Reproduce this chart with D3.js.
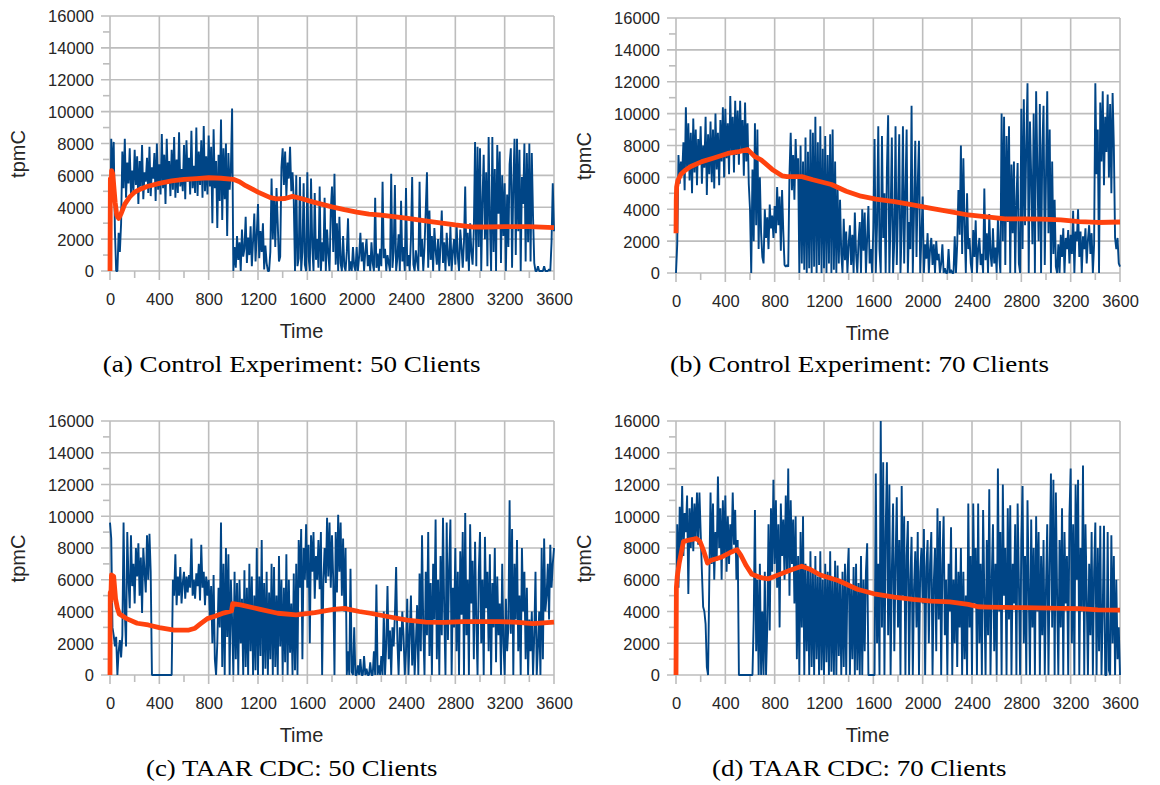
<!DOCTYPE html>
<html>
<head>
<meta charset="utf-8">
<script src="https://cdn.jsdelivr.net/npm/d3@7"></script>
<style>
  html, body { margin: 0; padding: 0; background: #fff; }
  svg { display: block; }
</style>
</head>
<body>
<svg id="fig" width="1160" height="785"></svg>
<script>
// Axis ticks
const timeTicks = [0, 400, 800, 1200, 1600, 2000, 2400, 2800, 3200, 3600];
const timeMinor = [200, 600, 1000, 1400, 1800, 2200, 2600, 3000, 3400];
const tpmcTicks = [0, 2000, 4000, 6000, 8000, 10000, 12000, 14000, 16000];
const tpmcMinor = [1000, 3000, 5000, 7000, 9000, 11000, 13000, 15000];

// Seconds between consecutive tpmC samples
const SAMPLE_STEP = 10;

// tpmC samples, one row per 100 s of run time
const ctrl50 = [
  0, 8300, 6000, 8100, 2500, 0, 0, 2400, 1200, 3000,
  7500, 5200, 8300, 4600, 6800, 5500, 7700, 4800, 6300, 5000,
  7600, 5400, 7200, 4200, 6900, 5300, 7900, 4500, 6200, 5600,
  7100, 4900, 7800, 4700, 6500, 5800, 7400, 4400, 8000, 5100,
  6700, 4800, 8600, 5200, 7300, 4200, 8300, 5500, 6900, 4700,
  7600, 5100, 8400, 4600, 7000, 4900, 8700, 5300, 6400, 5000,
  7900, 4500, 8200, 5600, 7100, 4800, 8800, 5200, 6600, 4900,
  9000, 4700, 7500, 5400, 8200, 4600, 9100, 5000, 7200, 4800,
  8500, 5300, 7800, 3000, 8900, 5200, 6900, 2700, 7300, 4400,
  9500, 3200, 7700, 4500, 8000, 2200, 7400, 5100, 6400, 10200,
  0, 1500, 200, 2200, 700, 1800, 0, 2600, 900, 1400,
  3400, 500, 2100, 1000, 2800, 300, 1900, 3600, 600, 2300,
  4200, 800, 2500, 1200, 3000, 100, 1600, 500, 0, 0,
  1200, 5800, 2000, 4600, 1500, 5200, 3000, 600, 900, 6500,
  7700, 5400, 7500, 4700, 6800, 5800, 7800, 5000, 6200, 4400,
  0, 6000, 300, 800, 5900, 0, 1200, 5500, 400, 0,
  6200, 900, 0, 5800, 1500, 0, 4900, 700, 2000, 200,
  5300, 0, 1800, 600, 4600, 0, 2600, 1100, 0, 3800,
  5300, 1200, 6100, 400, 3000, 0, 3400, 500, 0, 2200,
  300, 0, 1200, 3300, 0, 600, 0, 1500, 300, 0,
  1500, 0, 900, 2400, 600, 1800, 0, 1200, 2000, 300,
  1000, 0, 1800, 500, 0, 4600, 200, 1100, 0, 1400,
  300, 5600, 800, 1400, 0, 1000, 500, 0, 6100, 200,
  1200, 5400, 0, 800, 2300, 0, 4400, 600, 1500, 0,
  5200, 300, 1000, 0, 2000, 5900, 400, 0, 1300, 600,
  0, 5600, 900, 2000, 0, 1500, 3800, 6200, 200, 3800,
  700, 2200, 0, 2700, 1300, 400, 2000, 0, 1600, 3800,
  500, 1800, 0, 2400, 1000, 300, 2800, 0, 1200, 2000,
  400, 3000, 900, 0, 2600, 1500, 200, 1800, 5300, 600,
  2400, 0, 3000, 1200, 400, 2600, 8100, 300, 7800, 1500,
  7700, 0, 4400, 7300, 2000, 6200, 300, 8400, 3200, 0,
  8400, 1200, 6400, 0, 7900, 3600, 7500, 500, 6000, 2200,
  5500, 0, 4800, 1500, 6700, 7700, 200, 5400, 8300, 1000,
  8300, 2500, 7600, 0, 5900, 4200, 8000, 600, 7400, 1800,
  8000, 600, 7400, 3400, 500, 0, 0, 300, 0, 0,
  0, 0, 300, 0, 0, 0, 100, 0, 1800, 5500,
  2500
];

const ctrl70 = [
  0, 1800, 7400, 5600, 7000, 6200, 8200, 5200, 10400, 6400,
  9400, 5800, 8800, 5000, 9700, 6300, 9000, 5500, 8400, 6800,
  9200, 5600, 8000, 6600, 9800, 4900, 8700, 6200, 9500, 5700,
  9000, 5300, 10000, 6500, 8800, 5500, 9600, 7000, 10400, 6000,
  10300, 7200, 9400, 6200, 11100, 7500, 9800, 6300, 10800, 7400,
  10200, 6800, 10800, 7600, 9600, 6100, 10700, 7000, 9400, 5600,
  4000, 0, 6500, 2000, 9400, 3000, 9000, 1500, 6000, 2500,
  1000, 600, 4000, 2200, 3500, 1500, 4300, 2800, 3600, 2200,
  4200, 2500, 5400, 3000, 4800, 1400, 5200, 2600, 500, 400,
  500, 400, 6200, 8800, 5200, 7400, 4600, 8400, 6000, 7200,
  0, 8000, 600, 7000, 200, 8500, 0, 7600, 300, 9000,
  0, 8800, 400, 9800, 0, 8200, 500, 9200, 0, 7800,
  300, 8600, 0, 7400, 600, 8700, 0, 9000, 200, 7000,
  0, 5500, 600, 4600, 1200, 0, 3400, 800, 2600, 0,
  1800, 3000, 500, 2400, 0, 3800, 1200, 0, 2000, 3200,
  0, 4000, 1400, 3800, 0, 2200, 4200, 600, 1500, 0,
  2800, 8400, 0, 3000, 9200, 1500, 0, 8600, 2200, 5000,
  0, 6400, 9900, 0, 3500, 8500, 0, 2000, 9200, 500,
  4200, 8700, 0, 2800, 9200, 600, 5000, 9000, 0, 3200,
  1500, 10500, 0, 4000, 8300, 1000, 5600, 8300, 0, 2400,
  4800, 0, 1800, 900, 2500, 0, 1500, 2200, 500, 1800,
  0, 2000, 800, 1200, 0, 600, 1800, 0, 300, 0,
  0, 1500, 0, 200, 0, 0, 2300, 0, 1800, 5200,
  2400, 8000, 1200, 7200, 3000, 0, 5000, 1500, 2200, 600,
  0, 2700, 1000, 3300, 0, 1500, 2200, 500, 1200, 0,
  5300, 800, 2500, 0, 3700, 1200, 400, 2800, 600, 1600,
  0, 3400, 1200, 0, 10000, 2000, 9800, 500, 8600, 3200,
  9200, 0, 6800, 2500, 7000, 0, 4500, 6900, 600, 0,
  10300, 1500, 10900, 3000, 8000, 11900, 0, 9500, 6000, 1800,
  10000, 0, 11400, 6500, 2000, 10600, 0, 7800, 10500, 500,
  6000, 11400, 2500, 9000, 0, 7000, 1200, 4600, 400, 0,
  1800, 0, 2400, 1000, 2800, 0, 2200, 1500, 2700, 600,
  2400, 1200, 3900, 0, 2600, 2000, 4000, 1000, 2600, 0,
  2300, 1500, 2800, 600, 2100, 3000, 1200, 2500, 0, 1800,
  11900, 6200, 9000, 0, 10700, 7000, 11400, 5500, 9800, 7600,
  11200, 6000, 10600, 5000, 11300, 8000, 2200, 1500, 2200, 600,
  400
];

const taar50 = [
  9600, 8600, 3000, 2500, 1800, 2400, 0, 1500, 2200, 1100,
  2500, 9600, 4000, 1800, 9000, 6000, 4200, 8800, 5600, 7000,
  4500, 8000, 6200, 8300, 5000, 7400, 3900, 8000, 6500, 5200,
  8800, 6000, 8900, 6500, 0, 0, 0, 0, 0, 0,
  0, 0, 0, 0, 0, 0, 0, 0, 0, 0,
  0, 6000, 5000, 7600, 4400, 6200, 5000, 6800, 4500, 5800,
  6500, 4800, 6200, 5200, 6300, 5500, 8600, 5000, 6000, 4800,
  6400, 5600, 7000, 4700, 8200, 5500, 6500, 4400, 6200, 5000,
  6000, 3600, 5600, 2000, 6300, 1000, 0, 2000, 5500, 3000,
  9600, 500, 7000, 0, 8000, 2400, 7600, 0, 6000, 3500,
  0, 6500, 1000, 5800, 0, 6000, 2000, 4800, 0, 6600,
  500, 5500, 0, 7000, 1500, 6200, 0, 5000, 300, 8000,
  0, 6200, 1200, 8500, 0, 5800, 400, 6500, 0, 5200,
  1000, 7000, 0, 6800, 500, 5000, 0, 7500, 1800, 6000,
  0, 5500, 800, 7600, 0, 6000, 1400, 4500, 0, 6400,
  300, 7000, 0, 8500, 5500, 9200, 1000, 8000, 6000, 9500,
  5500, 8200, 2000, 8800, 6500, 9000, 4800, 7500, 6000, 8500,
  5400, 9000, 0, 6000, 8000, 5800, 9900, 6200, 9600, 5500,
  8800, 6000, 0, 9000, 5200, 10100, 6500, 9600, 5000, 8600,
  4000, 8000, 0, 1500, 0, 6700, 200, 0, 3000, 0,
  0, 600, 0, 1000, 0, 0, 1200, 0, 400, 0,
  0, 800, 0, 0, 1500, 0, 5700, 0, 600, 0,
  1200, 0, 4000, 0, 2000, 5600, 1000, 2800, 0, 3000,
  1800, 3800, 6800, 2200, 0, 3000, 1500, 4000, 2500, 0,
  1500, 4800, 0, 2500, 5000, 600, 3500, 0, 2000, 4400,
  0, 6400, 1500, 8800, 3000, 0, 6500, 2500, 9000, 1200,
  5800, 0, 7000, 3500, 9800, 1000, 6000, 0, 7500, 2500,
  9900, 4000, 0, 9600, 2200, 6800, 9800, 0, 5500, 3000,
  8000, 1500, 6500, 0, 7800, 3800, 9000, 0, 10200, 2500,
  6000, 0, 9500, 4500, 7200, 1000, 8400, 3500, 0, 6400,
  9000, 2000, 6000, 0, 8700, 4200, 6500, 1500, 7600, 0,
  5800, 3000, 8000, 800, 6200, 2500, 4500, 0, 7000, 2000,
  0, 4800, 1500, 3000, 11000, 2600, 9200, 0, 7000, 3500,
  8500, 1500, 5000, 0, 8000, 4000, 6500, 1000, 5500, 0,
  3500, 1500, 4000, 0, 2500, 6500, 0, 1800, 4000, 0,
  8000, 1000, 8600, 4000, 5000, 7000, 3500, 8200, 5500, 7000,
  8000
];

const taar70 = [
  0, 9500, 5500, 10600, 8000, 11900, 7500, 10200, 9000, 11300,
  5100, 10500, 8000, 11200, 7800, 10800, 8500, 11500, 8200, 11500,
  9000, 6500, 4300, 4000, 3200, 500, 0, 6000, 11500, 7000,
  10800, 6000, 9000, 7200, 12500, 8000, 10500, 6000, 11000, 7400,
  11300, 6500, 10000, 7000, 9500, 7800, 11500, 8200, 10400, 6000,
  8500, 0, 0, 0, 0, 0, 0, 0, 0, 0,
  0, 0, 0, 3500, 10400, 1500, 6000, 0, 7000, 0,
  4000, 0, 6500, 0, 3000, 9500, 2800, 10500, 6500, 12300,
  7000, 11000, 5500, 9500, 3000, 10800, 7500, 9800, 6000, 11300,
  6500, 13000, 5000, 11000, 7000, 9800, 4500, 10000, 1000, 7500,
  0, 9000, 3000, 10000, 0, 7000, 1500, 6800, 0, 7800,
  500, 6500, 0, 7500, 1000, 6200, 0, 7800, 300, 6000,
  0, 7000, 800, 6500, 0, 7800, 200, 6000, 0, 7200,
  0, 6900, 1200, 5800, 0, 6500, 500, 7000, 0, 6200,
  8000, 0, 5500, 1000, 6800, 0, 7000, 300, 5800, 0,
  7500, 0, 6000, 1500, 6500, 8300, 0, 0, 0, 0,
  0, 0, 12700, 2000, 7000, 0, 16000, 3000, 13400, 0,
  9000, 13400, 2500, 12000, 0, 6500, 10800, 1500, 7000, 11200,
  3000, 8500, 0, 11900, 5000, 10000, 0, 7500, 9700, 0,
  6000, 8700, 0, 5500, 7800, 3000, 9000, 0, 6500, 8000,
  4500, 9200, 0, 6800, 8500, 2000, 7000, 9000, 0, 5800,
  8000, 1500, 10500, 3500, 9700, 0, 7000, 10000, 2500, 6000,
  0, 7000, 4000, 9300, 0, 6000, 2000, 8000, 500, 6500,
  3000, 8000, 0, 6500, 1000, 5000, 0, 10800, 3000, 7500,
  0, 10800, 4500, 8000, 0, 10800, 2000, 7000, 0, 10400,
  5000, 0, 8500, 2500, 11700, 0, 6000, 9500, 1500, 7000,
  0, 13000, 4000, 9000, 0, 12000, 5000, 8000, 0, 10500,
  3500, 10700, 0, 7000, 4500, 9500, 0, 10800, 6000, 0,
  8500, 11900, 2000, 7500, 0, 11000, 5500, 0, 9800, 3000,
  8000, 0, 10000, 4000, 9000, 0, 7500, 2500, 8500, 0,
  5500, 9500, 0, 7000, 12700, 3000, 12300, 0, 11500, 5000,
  0, 8500, 3000, 10500, 0, 9000, 4500, 7500, 0, 10000,
  13000, 2000, 9500, 0, 12000, 6000, 12300, 0, 8000, 4000,
  13200, 0, 9500, 5000, 0, 7000, 2500, 9000, 0, 6500,
  9600, 0, 8000, 1500, 9400, 0, 4000, 9400, 0, 0,
  9000, 300, 0, 8800, 2000, 7500, 0, 6000, 1000, 3000,
  0
];

// Running average of tpmC, [time, tpmC]
const ctrl50Avg = [
  [0, 0], [3, 5800], [8, 4600], [13, 6300], [22, 6100], [30, 5400], [42, 4300],
  [55, 3500], [70, 3300], [90, 3600], [120, 4200], [160, 4650], [200, 4950],
  [250, 5150], [300, 5300], [400, 5500], [500, 5650], [600, 5750], [700, 5800],
  [800, 5850], [900, 5820], [1000, 5750], [1050, 5600], [1100, 5350], [1200, 4950],
  [1300, 4600], [1350, 4520], [1420, 4550], [1480, 4680], [1550, 4550], [1650, 4320],
  [1800, 4020], [1900, 3850], [2000, 3700], [2100, 3570], [2200, 3500], [2400, 3320],
  [2600, 3100], [2800, 2890], [2950, 2760], [3050, 2760], [3200, 2790], [3400, 2790],
  [3600, 2720]
];
const ctrl70Avg = [
  [0, 2500], [2, 4600], [5, 5400], [15, 5800], [40, 6200], [75, 6450], [120, 6680],
  [210, 6990], [300, 7200], [420, 7500], [510, 7620], [580, 7750], [600, 7600],
  [640, 7300], [690, 7100], [780, 6500], [860, 6100], [900, 6050], [1020, 6050],
  [1110, 5850], [1260, 5550], [1380, 5130], [1500, 4820], [1620, 4640], [1770, 4480],
  [1920, 4270], [2070, 4060], [2220, 3850], [2370, 3640], [2520, 3520], [2670, 3400],
  [2820, 3400], [2970, 3380], [3120, 3330], [3270, 3230], [3420, 3170], [3600, 3200]
];
const taar50Avg = [
  [0, 0], [2, 5200], [6, 4600], [12, 6300], [30, 6200], [45, 4800], [60, 4200],
  [75, 3850], [130, 3570], [220, 3260], [310, 3150], [400, 2980], [520, 2830],
  [640, 2830], [690, 2950], [730, 3200], [790, 3550], [850, 3700], [910, 3880],
  [985, 4030], [995, 4500], [1060, 4420], [1210, 4150], [1360, 3890], [1510, 3790],
  [1660, 3930], [1810, 4140], [1900, 4200], [2020, 4000], [2110, 3890], [2260, 3670],
  [2410, 3460], [2560, 3330], [2710, 3320], [2860, 3360], [3010, 3360], [3160, 3360],
  [3310, 3320], [3430, 3230], [3600, 3330]
];
const taar70Avg = [
  [0, 0], [3, 5500], [10, 6200], [25, 7000], [60, 8400], [105, 8500], [165, 8600],
  [195, 8400], [225, 7800], [255, 7050], [285, 7230], [360, 7400], [435, 7700],
  [495, 7900], [525, 7560], [570, 6880], [615, 6340], [690, 6130], [750, 6060],
  [840, 6340], [930, 6610], [1020, 6850], [1080, 6680], [1170, 6300], [1320, 5940],
  [1470, 5400], [1620, 5090], [1770, 4910], [1920, 4770], [2070, 4660], [2220, 4600],
  [2370, 4450], [2450, 4300], [2520, 4280], [2820, 4240], [3120, 4200], [3270, 4180],
  [3420, 4100], [3600, 4090]
];

const captions = [
  "(a) Control Experiment: 50 Clients",
  "(b) Control Experiment: 70 Clients",
  "(c) TAAR CDC: 50 Clients",
  "(d) TAAR CDC: 70 Clients"
];

// Layout of the four sub-figures
const panels = [
  { series: ctrl50, average: ctrl50Avg, caption: captions[0],
    box: { l: 110, r: 554, t: 16, b: 271 }, capX: 102.7, capW: 378, capY: 372 },
  { series: ctrl70, average: ctrl70Avg, caption: captions[1],
    box: { l: 676, r: 1120, t: 18, b: 273 }, capX: 670, capW: 379, capY: 372 },
  { series: taar50, average: taar50Avg, caption: captions[2],
    box: { l: 110, r: 554, t: 421, b: 675 }, capX: 146, capW: 291.5, capY: 776 },
  { series: taar70, average: taar70Avg, caption: captions[3],
    box: { l: 676, r: 1120, t: 421, b: 675 }, capX: 712, capW: 294.5, capY: 776 }
];

const GRID = "#bdbdbd";
const BLUE = "#004586";
const ORANGE = "#ff420e";
const SANS = "'Liberation Sans', Arial, sans-serif";
const SERIF = "'Liberation Serif', 'Times New Roman', serif";

const svg = d3.select("#fig");

panels.forEach(p => {
  const { l, r, t, b } = p.box;
  const x = d3.scaleLinear().domain([0, 3600]).range([l, r]);
  const y = d3.scaleLinear().domain([0, 16000]).range([b, t]);
  const g = svg.append("g");

  // Grid lines, extended past the axes as major ticks
  g.append("g").selectAll("line").data(timeTicks).join("line")
    .attr("x1", d => x(d)).attr("x2", d => x(d))
    .attr("y1", t).attr("y2", b + 9)
    .attr("stroke", GRID).attr("stroke-width", 1.6);
  g.append("g").selectAll("line").data(tpmcTicks).join("line")
    .attr("x1", l - 9).attr("x2", r)
    .attr("y1", d => y(d)).attr("y2", d => y(d))
    .attr("stroke", GRID).attr("stroke-width", 1.6);

  // Minor ticks
  g.append("g").selectAll("line").data(timeMinor).join("line")
    .attr("x1", d => x(d)).attr("x2", d => x(d))
    .attr("y1", b).attr("y2", b + 7)
    .attr("stroke", GRID).attr("stroke-width", 1.6);
  g.append("g").selectAll("line").data(tpmcMinor).join("line")
    .attr("x1", l - 7).attr("x2", l)
    .attr("y1", d => y(d)).attr("y2", d => y(d))
    .attr("stroke", GRID).attr("stroke-width", 1.6);

  // Tick labels
  const xAxis = g.append("g").attr("transform", `translate(0,${b})`)
    .call(d3.axisBottom(x).tickValues(timeTicks).tickSize(0).tickFormat(d3.format("d")));
  xAxis.select(".domain").remove();
  xAxis.selectAll("text").attr("y", 28).attr("dy", "0.36em");

  const yAxis = g.append("g").attr("transform", `translate(${l},0)`)
    .call(d3.axisLeft(y).tickValues(tpmcTicks).tickSize(0).tickFormat(d3.format("d")));
  yAxis.select(".domain").remove();
  yAxis.selectAll("text").attr("x", -16).attr("dy", "0.36em");

  [xAxis, yAxis].forEach(a => a
    .attr("font-family", SANS).attr("font-size", 16.5)
    .selectAll("text").attr("fill", "#262626"));

  // Axis titles
  g.append("text")
    .attr("x", l + 191.5).attr("y", b + 67)
    .attr("text-anchor", "middle")
    .attr("font-family", SANS).attr("font-size", 20).attr("fill", "#262626")
    .text("Time");
  g.append("text")
    .attr("transform", `translate(${l - 85.5},${(t + b) / 2 + 10.5}) rotate(-90)`)
    .attr("text-anchor", "middle")
    .attr("font-family", SANS).attr("font-size", 20).attr("fill", "#262626")
    .text("tpmC");

  // tpmC samples
  const samples = p.series.map((v, i) => [i * SAMPLE_STEP, v]);
  const line = d3.line().x(d => x(d[0])).y(d => y(d[1]));
  g.append("path").datum(samples)
    .attr("d", line)
    .attr("fill", "none").attr("stroke", BLUE)
    .attr("stroke-width", 1.9).attr("stroke-linejoin", "bevel");

  // Running average
  g.append("path").datum(p.average)
    .attr("d", line)
    .attr("fill", "none").attr("stroke", ORANGE)
    .attr("stroke-width", 4.8).attr("stroke-linejoin", "round");

  // Sub-figure caption
  g.append("text")
    .attr("x", p.capX).attr("y", p.capY)
    .attr("font-family", SERIF).attr("font-size", 23).attr("fill", "#000")
    .attr("textLength", p.capW).attr("lengthAdjust", "spacingAndGlyphs")
    .text(p.caption);
});
</script>
</body>
</html>
